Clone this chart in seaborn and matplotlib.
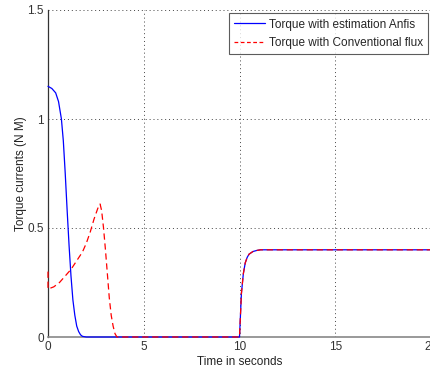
import matplotlib
matplotlib.use("Agg")
import matplotlib.pyplot as plt
import seaborn as sns
import pandas as pd

t_anfis = [0, 0.2, 0.4, 0.55, 0.7, 0.8, 0.9, 1.0, 1.1, 1.2, 1.3, 1.4, 1.5, 1.6, 1.7, 1.8, 2.0,
           10.0, 10.05, 10.1, 10.2, 10.3, 10.4, 10.5, 10.7, 10.9, 11.1, 20.0]
v_anfis = [1.15, 1.14, 1.12, 1.08, 1.0, 0.9, 0.75, 0.58, 0.42, 0.28, 0.17, 0.1, 0.05, 0.025, 0.01, 0.003, 0.0,
           0.0, 0.1, 0.2, 0.29, 0.34, 0.365, 0.38, 0.392, 0.397, 0.4, 0.4]

t_conv = [0, 0, 0.3, 0.6, 0.9, 1.2, 1.5, 1.8, 2.0, 2.2, 2.4, 2.6, 2.72, 2.8, 2.9, 3.0, 3.1, 3.2, 3.3, 3.4, 3.5, 3.6,
          10.0, 10.05, 10.1, 10.2, 10.3, 10.4, 10.5, 10.7, 10.9, 11.1, 20.0]
v_conv = [0.3, 0.22, 0.23, 0.25, 0.28, 0.31, 0.35, 0.39, 0.43, 0.48, 0.54, 0.59, 0.61, 0.58, 0.5, 0.4, 0.29, 0.18, 0.1, 0.05, 0.015, 0.0,
          0.0, 0.1, 0.2, 0.29, 0.34, 0.365, 0.38, 0.392, 0.397, 0.4, 0.4]

labels = ["Torque with estimation Anfis", "Torque with Conventional flux"]
xticks = [0, 5, 10, 15, 20]
yticks = [0, 0.5, 1, 1.5]

sns.set_style("white")
plt.rcParams['font.family'] = ['Liberation Sans', 'DejaVu Sans']

fig = plt.figure(figsize=(4.3, 3.72), dpi=100)
ax = fig.add_axes([48/430, 35/372, 383/430, 327/372])

df_a = pd.DataFrame({"t": t_anfis, "v": v_anfis})
df_c = pd.DataFrame({"t": t_conv, "v": v_conv})
sns.lineplot(data=df_a, x="t", y="v", ax=ax, color="#0000ff", lw=0.9, sort=False,
             estimator=None, label=labels[0], zorder=3, clip_on=False)
sns.lineplot(data=df_c, x="t", y="v", ax=ax, color="#ff0000", lw=0.9, sort=False,
             estimator=None, label=labels[1], zorder=3, clip_on=False)
ax.lines[1].set_dashes([5, 3])

ax.set_xlim(0, 20)
ax.set_ylim(0, 1.5)
ax.set_xticks(xticks)
ax.set_xticklabels([str(x) for x in xticks])
ax.set_yticks(yticks)
ax.set_yticklabels(["0", "0.5", "1", "1.5"])
ax.tick_params(labelsize=8.5, colors="#333333", length=0, pad=3)
ax.grid(True, color="#444444", linestyle=(0, (1, 3)), lw=0.7)
ax.set_xlabel("Time in seconds", fontsize=8.5, color="#222222", labelpad=2)
ax.set_ylabel("Torque currents (N M)", fontsize=8.5, color="#222222", labelpad=0)

for s in ["top", "right"]:
    ax.spines[s].set_visible(False)
ax.spines["left"].set_color("#333333")
ax.spines["left"].set_linewidth(0.9)
ax.spines["bottom"].set_color("#888888")
ax.spines["bottom"].set_linewidth(1.2)

leg = ax.legend(loc="upper right", fontsize=8.5, frameon=True, fancybox=False,
                edgecolor="#333333", borderaxespad=0.0, handlelength=2.6,
                handletextpad=0.3, borderpad=0.45, labelspacing=0.55,
                bbox_to_anchor=(0.9925, 0.99))
leg.get_frame().set_linewidth(0.8)
leg.get_lines()[1].set_dashes([3, 2])

fig.savefig("out.png", dpi=100)
